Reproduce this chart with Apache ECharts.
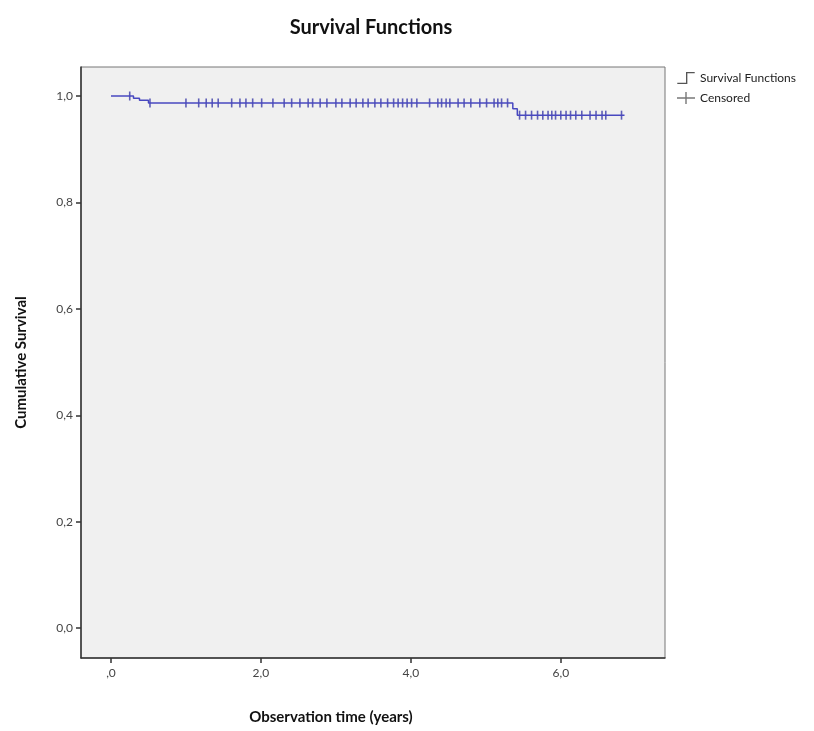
<!DOCTYPE html>
<html>
<head>
<meta charset="utf-8">
<script src="https://cdn.jsdelivr.net/npm/echarts@6/dist/echarts.min.js"></script>
<style>
  html, body { margin: 0; padding: 0; background: #fff; }
  #chart { width: 814px; height: 731px; }
</style>
</head>
<body>
<div id="chart"></div>
<script>
// Kaplan-Meier steps (time in years, cumulative survival after that time)
const stepTimes = [0, 0.30, 0.38, 0.50, 5.36, 5.42, 6.85];
const stepSurv  = [1.0, 0.996, 0.992, 0.987, 0.976, 0.964, 0.964];

// censored observations (years)
const censoredTimes = [
  0.25, 0.52, 1.00, 1.17, 1.27, 1.35, 1.43, 1.61, 1.72, 1.80, 1.89, 2.01,
  2.16, 2.31, 2.41, 2.52, 2.63, 2.69, 2.79, 2.88, 3.00, 3.08, 3.19, 3.27,
  3.36, 3.43, 3.52, 3.60, 3.69, 3.77, 3.83, 3.89, 3.95, 4.01, 4.08, 4.25,
  4.36, 4.41, 4.47, 4.52, 4.63, 4.71, 4.80, 4.92, 5.01, 5.11, 5.16, 5.21,
  5.29, 5.45, 5.53, 5.61, 5.69, 5.76, 5.83, 5.88, 5.93, 6.00, 6.07, 6.13,
  6.20, 6.28, 6.39, 6.47, 6.55, 6.60, 6.81
];

const xTicks = [0, 2, 4, 6];
const yTicks = [0, 0.2, 0.4, 0.6, 0.8, 1.0];

// survival level at time t
function survAt(t) {
  let s = stepSurv[0];
  for (let i = 0; i < stepTimes.length; i++) {
    if (stepTimes[i] <= t) s = stepSurv[i];
  }
  return s;
}

// SPSS style labels: x axis drops the leading zero (",0"), y axis keeps it
function xLabel(v) {
  if (v === 0) return ',0';
  return v.toFixed(1).replace('.', ',');
}
function yLabel(v) {
  return v.toFixed(1).replace('.', ',');
}

const curveData = stepTimes.map((t, i) => [t, stepSurv[i]]);
const censorData = censoredTimes.map(t => [t, survAt(t)]);

const font = 'Lato, "Open Sans", sans-serif';

const chart = echarts.init(document.getElementById('chart'));
chart.setOption({
  animation: false,
  backgroundColor: '#fff',
  title: {
    text: 'Survival Functions',
    left: 366,
    top: 13,
    textAlign: 'center',
    textStyle: { fontFamily: font, fontWeight: 'bold', fontSize: 20, color: '#111' }
  },
  legend: {
    orient: 'vertical',
    left: 672,
    top: 67,
    itemWidth: 18,
    itemHeight: 12,
    itemGap: 8,
    textStyle: { fontFamily: font, fontSize: 12, color: '#222' },
    data: [
      { name: 'Survival Functions',
        icon: 'path://M0,11 L9,11 L9,0 L18,0 L18,1.4 L10.4,1.4 L10.4,12.4 L0,12.4 Z',
        itemStyle: { color: '#555' } },
      { name: 'Censored',
        icon: 'path://M8.3,0 L9.7,0 L9.7,5.3 L18,5.3 L18,6.7 L9.7,6.7 L9.7,12 L8.3,12 L8.3,6.7 L0,6.7 L0,5.3 L8.3,5.3 Z',
        itemStyle: { color: '#555' } }
    ]
  },
  grid: {
    left: 81, right: 149, top: 67, bottom: 73,
    show: true,
    backgroundColor: '#f0f0f0',
    borderColor: '#777',
    borderWidth: 1
  },
  xAxis: {
    type: 'value',
    min: -0.4,
    max: 7.39,
    name: 'Observation time (years)',
    nameLocation: 'middle',
    nameGap: 52,
    nameTextStyle: { fontFamily: font, fontWeight: 'bold', fontSize: 15, color: '#111', padding: [0, 84, 0, 0] },
    axisLine: { show: true, onZero: false, lineStyle: { color: '#333', width: 1.5 } },
    axisTick: { show: true, length: 5, customValues: xTicks, lineStyle: { color: '#333', width: 1.5 } },
    axisLabel: { customValues: xTicks, formatter: xLabel, margin: 9,
      fontFamily: font, fontSize: 12, color: '#444' },
    splitLine: { show: false }
  },
  yAxis: {
    type: 'value',
    min: -0.056,
    max: 1.0545,
    name: 'Cumulative Survival',
    nameLocation: 'middle',
    nameGap: 52,
    nameTextStyle: { fontFamily: font, fontWeight: 'bold', fontSize: 15, color: '#111' },
    axisLine: { show: true, onZero: false, lineStyle: { color: '#333', width: 1.5 } },
    axisTick: { show: true, length: 5, customValues: yTicks, lineStyle: { color: '#333', width: 1.5 } },
    axisLabel: { customValues: yTicks, formatter: yLabel, margin: 8,
      fontFamily: font, fontSize: 12, color: '#444' },
    splitLine: { show: false }
  },
  series: [
    {
      name: 'Survival Functions',
      type: 'line',
      step: 'end',
      data: curveData,
      showSymbol: false,
      lineStyle: { color: '#4848c0', width: 1.5 },
      itemStyle: { color: '#555' }
    },
    {
      name: 'Censored',
      type: 'scatter',
      data: censorData,
      symbol: 'rect',
      symbolSize: [1.6, 9],
      itemStyle: { color: '#3a3aa8' }
    }
  ]
});
</script>
</body>
</html>
